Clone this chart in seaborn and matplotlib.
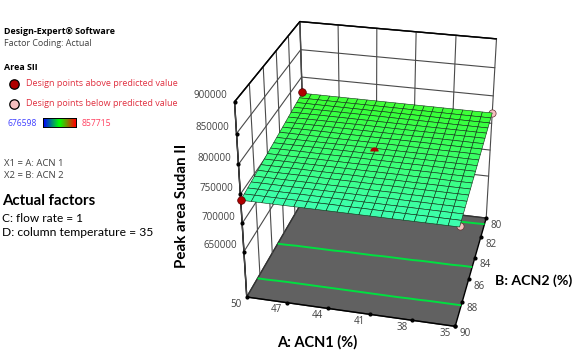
import numpy as np
import matplotlib
matplotlib.use('Agg')
import matplotlib.pyplot as plt
from mpl_toolkits.mplot3d import proj3d
import seaborn as sns

sns.set_theme(style='white')
plt.rcParams['font.family'] = ['Open Sans', 'DejaVu Sans']

a_ticks = [50, 47, 44, 41, 38, 35]
b_ticks = [80, 82, 84, 86, 88, 90]
z_ticks = [650000, 700000, 750000, 800000, 850000, 900000]
z_floor = 566800
z_top = 900000
a_grid = [50, 49.25, 48.5, 47.75, 47, 46.25, 45.5, 44.75, 44, 43.25, 42.5, 41.75, 41, 40.25, 39.5, 38.75, 38, 37.25, 36.5, 35.75, 35]
b_grid = [80, 80.5, 81, 81.5, 82, 82.5, 83, 83.5, 84, 84.5, 85, 85.5, 86, 86.5, 87, 87.5, 88, 88.5, 89, 89.5, 90]
# peak area in thousands, one row per B, one column per A
area_k = [
    [770.0,769.9,769.9,769.8,769.8,769.7,769.7,769.6,769.6,769.5,769.5,769.4,769.4,769.3,769.3,769.2,769.2,769.1,769.1,769.0,769.0],
    [768.5,768.4,768.4,768.3,768.3,768.2,768.2,768.1,768.1,768.0,768.0,768.0,767.9,767.9,767.8,767.8,767.7,767.7,767.6,767.6,767.5],
    [767.0,767.0,766.9,766.9,766.8,766.8,766.7,766.7,766.6,766.6,766.6,766.5,766.5,766.4,766.4,766.3,766.3,766.2,766.2,766.1,766.1],
    [765.6,765.5,765.5,765.4,765.4,765.3,765.3,765.3,765.2,765.2,765.1,765.1,765.1,765.0,765.0,764.9,764.9,764.8,764.8,764.7,764.7],
    [764.0,764.0,763.9,763.9,763.8,763.8,763.8,763.7,763.7,763.6,763.6,763.6,763.5,763.5,763.4,763.4,763.4,763.3,763.3,763.2,763.2],
    [762.6,762.5,762.5,762.4,762.4,762.4,762.3,762.3,762.2,762.2,762.2,762.1,762.1,762.0,762.0,762.0,761.9,761.9,761.8,761.8,761.8],
    [761.0,761.0,760.9,760.9,760.9,760.8,760.8,760.8,760.7,760.7,760.7,760.6,760.6,760.5,760.5,760.5,760.4,760.4,760.4,760.3,760.3],
    [759.5,759.4,759.4,759.4,759.3,759.3,759.3,759.2,759.2,759.2,759.1,759.1,759.1,759.0,759.0,759.0,758.9,758.9,758.9,758.8,758.8],
    [758.0,758.0,757.9,757.9,757.9,757.8,757.8,757.8,757.8,757.7,757.7,757.7,757.6,757.6,757.6,757.6,757.5,757.5,757.5,757.4,757.4],
    [756.6,756.5,756.5,756.5,756.5,756.4,756.4,756.4,756.3,756.3,756.3,756.3,756.2,756.2,756.2,756.1,756.1,756.1,756.1,756.0,756.0],
    [755.0,755.0,754.9,754.9,754.9,754.9,754.9,754.8,754.8,754.8,754.8,754.7,754.7,754.7,754.7,754.6,754.6,754.6,754.6,754.5,754.5],
    [753.6,753.5,753.5,753.5,753.5,753.4,753.4,753.4,753.4,753.4,753.3,753.3,753.3,753.3,753.2,753.2,753.2,753.2,753.2,753.1,753.1],
    [752.0,752.0,752.0,751.9,751.9,751.9,751.9,751.9,751.8,751.8,751.8,751.8,751.8,751.7,751.7,751.7,751.7,751.7,751.6,751.6,751.6],
    [750.6,750.5,750.5,750.5,750.5,750.5,750.4,750.4,750.4,750.4,750.4,750.4,750.3,750.3,750.3,750.3,750.3,750.2,750.2,750.2,750.2],
    [749.0,749.0,749.0,749.0,748.9,748.9,748.9,748.9,748.9,748.9,748.9,748.8,748.8,748.8,748.8,748.8,748.8,748.7,748.7,748.7,748.7],
    [747.6,747.5,747.5,747.5,747.5,747.5,747.5,747.5,747.4,747.4,747.4,747.4,747.4,747.4,747.4,747.4,747.3,747.3,747.3,747.3,747.3],
    [746.0,746.0,746.0,745.9,745.9,745.9,745.9,745.9,745.9,745.9,745.9,745.9,745.9,745.9,745.9,745.8,745.8,745.8,745.8,745.8,745.8],
    [744.6,744.6,744.5,744.5,744.5,744.5,744.5,744.5,744.5,744.5,744.5,744.5,744.5,744.5,744.5,744.5,744.5,744.4,744.4,744.4,744.4],
    [743.0,743.0,743.0,743.0,743.0,743.0,743.0,743.0,743.0,743.0,742.9,742.9,742.9,742.9,742.9,742.9,742.9,742.9,742.9,742.9,742.9],
    [741.6,741.6,741.6,741.6,741.6,741.6,741.6,741.6,741.6,741.6,741.5,741.5,741.5,741.5,741.5,741.5,741.5,741.5,741.5,741.5,741.5],
    [740.0,740.0,740.0,740.0,740.0,740.0,740.0,740.0,740.0,740.0,740.0,740.0,740.0,740.0,740.0,740.0,740.0,740.0,740.0,740.0,740.0],
]
contour_levels = [745000, 754800, 767100]
above_a = [50, 50]
above_b = [80, 90]
above_z = [773000, 740500]
center_a = [42.5]
center_b = [85]
center_z = [760000]
below_a = [35, 35]
below_b = [80, 90]
below_z = [768500, 741000]
area_min = 676598
area_max = 857715

fig = plt.figure(figsize=(5.78, 3.62), dpi=100)
# camera and axes box were fitted to the corners of the reference
ax = fig.add_axes([193.7/578, 16.2/362, 350.1/578, 350.1/362], projection='3d', computed_zorder=False)
ax.set_xlim(50, 35)
ax.set_ylim(90, 80)
ax.set_zlim(z_floor, z_top)
ax.view_init(elev=28.285, azim=-76.78, roll=-0.10964)
ax.set_proj_type('persp', focal_length=0.59412)
ax.set_box_aspect((0.98085, 0.96703, 1.0))

A, B = np.meshgrid(a_grid, b_grid)
Z = np.array(area_k)*1000
surf_cmap = sns.blend_palette(['#4040ff', '#40ffff', '#38ff38', '#ffff40', '#ff4040'], as_cmap=True)
strip_cmap = sns.blend_palette(['#0000ff', '#00ff00', '#ff0000'], as_cmap=True)

ax.grid(False)
ax.xaxis.pane.set_facecolor('white')
ax.yaxis.pane.set_facecolor('white')
ax.zaxis.pane.set_facecolor('#616161')
for axis in [ax.xaxis, ax.yaxis, ax.zaxis]:
    axis.pane.set_alpha(1)
    axis.pane.set_edgecolor('#333333')
    axis.line.set_color('black')
    axis.line.set_linewidth(1.0)
ax.zaxis.set_ticks_position('upper')
ax.set_xticks(a_ticks)
ax.set_yticks(b_ticks)
ax.set_zticks(z_ticks)
ax.set_xticklabels([])
ax.set_yticklabels([])
ax.set_zticklabels([])
ax.tick_params(color=(0, 0, 0, 0))

# tick labels, offset from their tick in pixels
M = ax.get_proj()
def tick_label(x, y, z, txt, dx, dy, ha='center'):
    px, py, _ = proj3d.proj_transform(x, y, z, M)
    ax.annotate(txt, xy=(px, py), xytext=(dx, dy), textcoords='offset pixels', ha=ha, va='center',
                fontsize=7, color='#404040', annotation_clip=False)
for v in a_ticks:
    tick_label(v, 90, z_floor, str(v), -10.4, -7)
for v in b_ticks:
    tick_label(35, v, z_floor, str(v), 10.3, -7)
for v in z_ticks:
    tick_label(50, 90, v, str(v), -7, 6, ha='right')

# wall grid
grid_c = '#4a4a4a'
for v in a_ticks:
    ax.plot([v, v], [80, 80], [z_floor, z_top], color=grid_c, lw=0.8, zorder=1)
for v in b_ticks:
    ax.plot([50, 50], [v, v], [z_floor, z_top], color=grid_c, lw=0.8, zorder=1)
for v in z_ticks:
    ax.plot([50, 35], [80, 80], [v, v], color=grid_c, lw=0.8, zorder=1)
    ax.plot([50, 50], [90, 80], [v, v], color=grid_c, lw=0.8, zorder=1)
ax.plot([50, 35], [80, 80], [z_top, z_top], color='black', lw=1, zorder=1)
ax.plot([50, 50], [90, 80], [z_top, z_top], color='black', lw=1, zorder=1)
# tick dots
ax.plot(a_ticks, [90]*6, [z_floor]*6, ls='', marker='o', ms=2, color='black', zorder=3)
ax.plot([35]*6, b_ticks, [z_floor]*6, ls='', marker='o', ms=2, color='black', zorder=3)
ax.plot([50]*6, [90]*6, z_ticks, ls='', marker='o', ms=2, color='black', zorder=3)

ax.contour(A, B, Z, levels=contour_levels, zdir='z', offset=z_floor, colors='#00e040', linewidths=1.4, zorder=2)
ax.plot(below_a, below_b, below_z, ls='', marker='o', ms=5.2, mfc='#f5c0c0', mec='#603030', mew=0.5, zorder=3)
ax.plot_surface(A, B, Z, cmap=surf_cmap, vmin=area_min, vmax=area_max, rstride=1, cstride=1,
                edgecolor='#12351a', linewidth=0.42, antialiased=True, shade=False, zorder=4)
ax.plot(above_a, above_b, above_z, ls='', marker='o', ms=5.5, mfc='#b00000', mec='#500000', mew=0.5, zorder=5)
ax.plot(center_a, center_b, center_z, ls='', marker='o', ms=6, fillstyle='top', mfc='#b00000',
        markerfacecoloralt=(0, 0, 0, 0), mec='none', zorder=5)

# left panel in pixel coordinates
ov = fig.add_axes([0, 0, 1, 1], facecolor='none')
ov.set_xlim(0, 578)
ov.set_ylim(362, 0)
ov.axis('off')
ov.text(4, 32, 'Design-Expert® Software', fontsize=6.4, fontweight='bold', color='black', va='center')
ov.text(4, 44, 'Factor Coding: Actual', fontsize=6.4, color='#404040', va='center')
ov.text(4, 68, 'Area SII', fontsize=6.4, fontweight='bold', color='black', va='center')
ov.text(26, 84, 'Design points above predicted value', fontsize=6.45, color='#e03040', va='center')
ov.text(26, 104, 'Design points below predicted value', fontsize=6.45, color='#e03040', va='center')
ov.scatter([14], [84], s=46, c='#b00000', edgecolors='black', linewidths=0.9)
ov.scatter([14], [104], s=46, c='#f5c0c0', edgecolors='black', linewidths=0.9)
ov.text(8, 124, str(area_min), fontsize=6.2, color='#4040ff', va='center')
ov.text(82, 124, str(area_max), fontsize=6.2, color='#ff4060', va='center')
ov.text(4, 164, 'X1 = A: ACN 1', fontsize=6.8, color='#404040', va='center')
ov.text(4, 176, 'X2 = B: ACN 2', fontsize=6.8, color='#404040', va='center')
ov.text(2, 201, 'Actual factors', fontsize=10.8, fontweight='bold', family='Lato', color='black', va='center')
ov.text(2, 218, 'C: flow rate = 1', fontsize=8.6, family='Lato', color='black', va='center')
ov.text(2, 233, 'D: column temperature = 35', fontsize=8.7, family='Lato', color='black', va='center')
ov.text(182, 205.5, 'Peak area Sudan II', fontsize=10.9, fontweight='bold', family='Lato', rotation=90, ha='center', va='center', color='black')
ov.text(317, 342, 'A: ACN1 (%)', fontsize=10.5, fontweight='bold', family='Lato', ha='center', va='center', color='black')
ov.text(534, 281, 'B: ACN2 (%)', fontsize=10.2, fontweight='bold', family='Lato', ha='center', va='center', color='black')

strip = fig.add_axes([43/578, 1 - 127/362, 33/578, 9/362])
sns.heatmap(np.linspace(area_min, area_max, 64)[None, :], ax=strip, cmap=strip_cmap, cbar=False, xticklabels=False, yticklabels=False)
for sp in strip.spines.values():
    sp.set_visible(True)
    sp.set_color('black')
    sp.set_linewidth(0.7)

fig.savefig('out.png', dpi=100)
